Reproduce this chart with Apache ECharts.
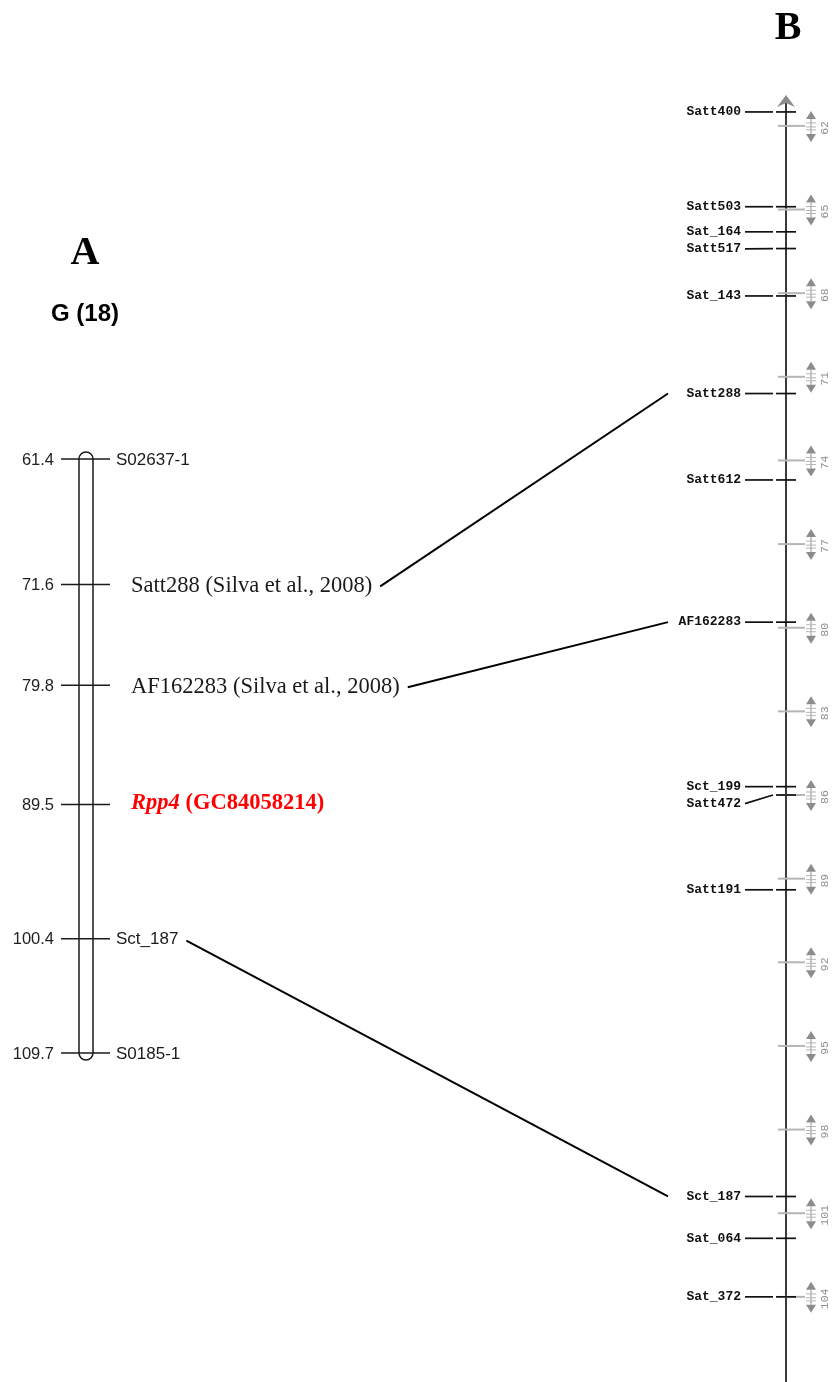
<!DOCTYPE html>
<html>
<head>
<meta charset="utf-8">
<script src="https://cdn.jsdelivr.net/npm/echarts@6/dist/echarts.min.js"></script>
<style>
  html, body { margin: 0; padding: 0; background: #fff; }
  #chart { width: 832px; height: 1382px; }
</style>
</head>
<body>
<div id="chart"></div>
<script>
// ---- Panel A: linkage group G (18) carrying Rpp4 ----
const groupName = 'G (18)';
const leftMarkers = ['S02637-1', 'Satt288', 'AF162283', 'Rpp4', 'Sct_187', 'S0185-1'];
const leftPositions = [61.4, 71.6, 79.8, 89.5, 100.4, 109.7];
const leftNotes = ['', '(Silva et al., 2008)', '(Silva et al., 2008)', '(GC84058214)', '', ''];
const targetGene = 'Rpp4';

// ---- Panel B: consensus map segment (cM) ----
const rightMarkers = ['Satt400', 'Satt503', 'Sat_164', 'Satt517', 'Sat_143', 'Satt288', 'Satt612',
  'AF162283', 'Sct_199', 'Satt472', 'Satt191', 'Sct_187', 'Sat_064', 'Sat_372'];
const rightPositions = [61.5, 64.9, 65.8, 66.4, 68.1, 71.6, 74.7, 79.8, 85.7, 86.0, 89.4, 100.4, 101.9, 104.0];
const scaleTicks = [62, 65, 68, 71, 74, 77, 80, 83, 86, 89, 92, 95, 98, 101, 104];
const mapRange = [61, 107];

// ---- styling ----
const INK = '#1a1a1a';
const SANS = '"Liberation Sans", Arial, sans-serif';
const SERIF = '"Liberation Serif", "Times New Roman", serif';
const MONO = '"Liberation Mono", "DejaVu Sans Mono", monospace';
const FONT_NUM = '16.5px ' + SANS;
const FONT_SANS_LABEL = '17px ' + SANS;
const FONT_SERIF_LABEL = '22.5px ' + SERIF;
const FONT_MAP_LABEL = 'bold 13px ' + MONO;
const FONT_SCALE = '11.5px ' + MONO;
const AXIS_B_X = 786;       // x of the map backbone in panel B
const MAP_LABEL_X = 741;    // right edge of marker names in panel B
const MAP_LABEL_GAP = 17;   // minimum vertical spacing of marker names

function textStyle(o) {
  // set both naming styles for alignment so every renderer version reads them
  if (o.textAlign) o.align = o.textAlign;
  if (o.textVerticalAlign) o.verticalAlign = o.textVerticalAlign;
  return o;
}

const measureCtx = document.createElement('canvas').getContext('2d');
function textWidth(str, font) { measureCtx.font = font; return measureCtx.measureText(str).width; }

function leftLabelInfo(i) {
  const name = leftMarkers[i], note = leftNotes[i];
  if (name === targetGene) {
    const f1 = 'italic bold 22.5px ' + SERIF, f2 = 'bold 22.5px ' + SERIF;
    return { x: 131, width: textWidth(name, f1) + textWidth(' ' + note, f2), rich: true };
  }
  if (note) return { x: 131, width: textWidth(name + ' ' + note, FONT_SERIF_LABEL), font: FONT_SERIF_LABEL, text: name + ' ' + note };
  return { x: 116, width: textWidth(name, FONT_SANS_LABEL), font: FONT_SANS_LABEL, text: name };
}

const chart = echarts.init(document.getElementById('chart'), null, { renderer: 'canvas' });

const option = {
  animation: false,
  backgroundColor: '#fff',
  grid: [
    { left: 79, width: 14, top: 459, height: 594 },
    { left: 745, width: 51, top: 98, height: 1282.5 }
  ],
  xAxis: [
    { gridIndex: 0, type: 'value', min: 0, max: 1, show: false },
    { gridIndex: 1, type: 'value', min: 0, max: 1, show: false }
  ],
  yAxis: [
    { gridIndex: 0, type: 'value', inverse: true, min: leftPositions[0], max: leftPositions[leftPositions.length - 1], show: false },
    { gridIndex: 1, type: 'value', inverse: true, min: mapRange[0], max: mapRange[1], show: false }
  ],
  graphic: [
    { type: 'text', x: 85, y: 254, style: textStyle({ text: 'A', font: 'bold 40px ' + SERIF, fill: '#000', textAlign: 'center', textVerticalAlign: 'middle' }) },
    { type: 'text', x: 85, y: 314, style: textStyle({ text: groupName, font: 'bold 24px ' + SANS, fill: '#000', textAlign: 'center', textVerticalAlign: 'middle' }) },
    { type: 'text', x: 788, y: 29, style: textStyle({ text: 'B', font: 'bold 40px ' + SERIF, fill: '#000', textAlign: 'center', textVerticalAlign: 'middle' }) }
  ],
  series: [
    // chromosome body of panel A
    {
      type: 'custom', name: 'chromosome', xAxisIndex: 0, yAxisIndex: 0, silent: true,
      data: [[0, leftPositions[0], leftPositions[leftPositions.length - 1]]],
      renderItem(params, api) {
        const top = api.coord([0, api.value(1)]);
        const bot = api.coord([1, api.value(2)]);
        const xl = top[0], xr = bot[0], yt = top[1], yb = bot[1];
        const r = (xr - xl) / 2;
        const path = `M${xl},${yb} L${xl},${yt} A${r},${r} 0 0 1 ${xr},${yt} L${xr},${yb} A${r},${r} 0 0 1 ${xl},${yb} Z`;
        return { type: 'path', shape: { pathData: path }, style: { fill: 'none', stroke: INK, lineWidth: 1.5 } };
      }
    },
    // markers of panel A
    {
      type: 'custom', name: 'groupMarkers', xAxisIndex: 0, yAxisIndex: 0, silent: true,
      data: leftPositions.map((v, i) => [0, v, i]),
      renderItem(params, api) {
        const i = api.value(2);
        const p0 = api.coord([0, api.value(1)]);
        const p1 = api.coord([1, api.value(1)]);
        const y = p0[1];
        const info = leftLabelInfo(i);
        const children = [
          { type: 'line', shape: { x1: p0[0] - 18, y1: y, x2: p1[0] + 17, y2: y }, style: { stroke: INK, lineWidth: 1.5 } },
          { type: 'text', style: textStyle({ x: p0[0] - 25, y: y + 1, text: leftPositions[i].toFixed(1), font: FONT_NUM, fill: '#222', textAlign: 'right', textVerticalAlign: 'middle' }) }
        ];
        if (info.rich) {
          children.push({
            type: 'text',
            style: textStyle({
              x: info.x, y: y - 1,
              text: `{i|${leftMarkers[i]}}{b| ${leftNotes[i]}}`,
              fill: '#ff0000', font: 'bold 22.5px ' + SERIF,
              textAlign: 'left', textVerticalAlign: 'middle',
              rich: {
                i: { fontStyle: 'italic', fontWeight: 'bold', fontSize: 22.5, fontFamily: SERIF, fill: '#ff0000', color: '#ff0000' },
                b: { fontWeight: 'bold', fontSize: 22.5, fontFamily: SERIF, fill: '#ff0000', color: '#ff0000' }
              }
            })
          });
        } else {
          children.push({ type: 'text', style: textStyle({ x: info.x, y: y + (info.font === FONT_SERIF_LABEL ? 2 : 1), text: info.text, font: info.font, fill: '#1a1a1a', textAlign: 'left', textVerticalAlign: 'middle' }) });
        }
        return { type: 'group', children };
      }
    },
    // backbone of panel B
    {
      type: 'custom', name: 'mapAxis', xAxisIndex: 1, yAxisIndex: 1, silent: true,
      data: [[0, mapRange[0], mapRange[1]]],
      renderItem(params, api) {
        const top = api.coord([0, api.value(1)])[1];
        const bot = api.coord([0, api.value(2)])[1];
        const ax = AXIS_B_X;
        return {
          type: 'group', children: [
            { type: 'line', shape: { x1: ax, y1: top + 4, x2: ax, y2: bot + 4 }, style: { stroke: '#3a3a3a', lineWidth: 2 } },
            { type: 'polygon', shape: { points: [[ax - 9, top + 9], [ax, top - 3], [ax + 9, top + 9], [ax, top + 5]] }, style: { fill: '#8c8c8c' } }
          ]
        };
      }
    },
    // cM scale widgets of panel B
    {
      type: 'custom', name: 'mapScale', xAxisIndex: 1, yAxisIndex: 1, silent: true,
      data: scaleTicks.map(t => [0, t]),
      renderItem(params, api) {
        const y = api.coord([0, api.value(1)])[1];
        const ax = AXIS_B_X, cx = ax + 25;
        const lite = '#b5b5b5', mid = '#8c8c8c';
        return {
          type: 'group', children: [
            { type: 'line', shape: { x1: ax - 8, y1: y, x2: ax + 19, y2: y }, style: { stroke: lite, lineWidth: 2 } },
            { type: 'polygon', shape: { points: [[cx - 5, y - 7], [cx, y - 15], [cx + 5, y - 7]] }, style: { fill: mid } },
            { type: 'line', shape: { x1: cx, y1: y - 7, x2: cx, y2: y + 8 }, style: { stroke: lite, lineWidth: 1.5 } },
            { type: 'line', shape: { x1: cx - 5, y1: y - 3, x2: cx + 5, y2: y - 3 }, style: { stroke: lite, lineWidth: 1 } },
            { type: 'line', shape: { x1: cx - 5, y1: y + 1, x2: cx + 5, y2: y + 1 }, style: { stroke: lite, lineWidth: 1 } },
            { type: 'line', shape: { x1: cx - 5, y1: y + 4, x2: cx + 5, y2: y + 4 }, style: { stroke: lite, lineWidth: 1 } },
            { type: 'polygon', shape: { points: [[cx - 5, y + 8], [cx, y + 16], [cx + 5, y + 8]] }, style: { fill: mid } },
            { type: 'text', x: ax + 39, y: y + 2, rotation: Math.PI / 2, style: textStyle({ x: 0, y: 0, text: String(api.value(1)), font: FONT_SCALE, fill: '#8f8f8f', textAlign: 'center', textVerticalAlign: 'middle' }) }
          ]
        };
      }
    },
    // markers of panel B
    {
      type: 'custom', name: 'mapMarkers', xAxisIndex: 1, yAxisIndex: 1, silent: true,
      data: rightPositions.map((v, i) => [0, v, i]),
      renderItem(params, api) {
        const i = api.value(2);
        const y = api.coord([0, api.value(1)])[1];
        // names that would collide are pushed down with a leader line
        let ly = -Infinity;
        for (let j = 0; j <= i; j++) {
          const yj = api.coord([0, rightPositions[j]])[1];
          ly = Math.max(yj, ly + MAP_LABEL_GAP);
        }
        const ax = AXIS_B_X;
        return {
          type: 'group', children: [
            { type: 'line', shape: { x1: MAP_LABEL_X + 4, y1: ly, x2: ax - 13, y2: y }, style: { stroke: '#111', lineWidth: 1.7 } },
            { type: 'line', shape: { x1: ax - 10, y1: y, x2: ax + 10, y2: y }, style: { stroke: '#111', lineWidth: 1.7 } },
            { type: 'text', style: textStyle({ x: MAP_LABEL_X, y: ly, text: rightMarkers[i], font: FONT_MAP_LABEL, fill: '#111', textAlign: 'right', textVerticalAlign: 'middle' }) }
          ]
        };
      }
    }
  ]
};

chart.setOption(option);

// connectors between markers shared by both maps
const linkData = [];
leftMarkers.forEach((name, i) => {
  const k = rightMarkers.indexOf(name);
  if (k < 0) return;
  const info = leftLabelInfo(i);
  const yL = chart.convertToPixel({ yAxisIndex: 0 }, leftPositions[i]);
  const yR = chart.convertToPixel({ yAxisIndex: 1 }, rightPositions[k]);
  linkData.push([info.x + info.width + 8, yL + 2, MAP_LABEL_X - 73, yR]);
});

option.series.push({
  type: 'custom', name: 'links', coordinateSystem: 'none', silent: true,
  data: linkData,
  renderItem(params, api) {
    return { type: 'line', shape: { x1: api.value(0), y1: api.value(1), x2: api.value(2), y2: api.value(3) }, style: { stroke: '#000', lineWidth: 2 } };
  }
});
chart.setOption(option, true);
</script>
</body>
</html>
